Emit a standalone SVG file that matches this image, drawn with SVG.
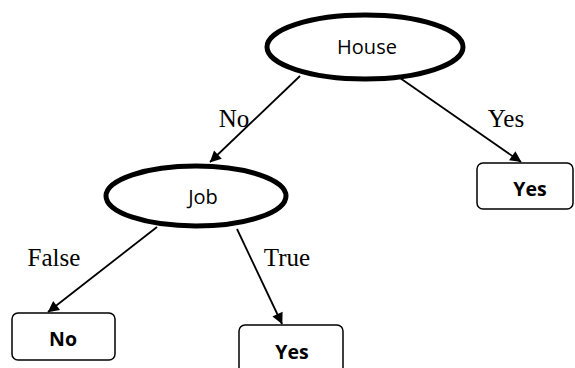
<svg xmlns="http://www.w3.org/2000/svg" width="575" height="368" viewBox="0 0 575 368">
<style>
.ell{fill:#fff;stroke:#000;stroke-width:5}
.box{fill:#fff;stroke:#000;stroke-width:1.5}
.nt{font-family:"Open Sans","Liberation Sans",sans-serif;font-size:20px;fill:#000;text-anchor:middle}
.bt{font-family:"Open Sans","Liberation Sans",sans-serif;font-size:19.5px;font-weight:bold;fill:#000;text-anchor:middle}
.el{font-family:"Liberation Serif",serif;font-size:25px;fill:#000;text-anchor:middle}
.c{stroke:#000;stroke-width:1.8;fill:none;marker-end:url(#ah)}
</style>
<defs>
<marker id="ah" viewBox="0 0 10 10" refX="9" refY="5" markerWidth="7" markerHeight="7" orient="auto" markerUnits="userSpaceOnUse" overflow="visible">
<path d="M0,0 L10,5 L0,10 z" fill="#000" transform="scale(1.6) translate(-4,-2)"/>
</marker>
</defs>
<rect width="575" height="368" fill="#fff"/>
<g id="connectors">
<line class="c" x1="300" y1="76" x2="210" y2="162"/>
<line class="c" x1="400" y1="78" x2="521" y2="162"/>
<line class="c" x1="157" y1="227" x2="48" y2="312"/>
<line class="c" x1="237" y1="229" x2="282" y2="324"/>
</g>
<g id="edge-labels">
<text class="el" x="234" y="127">No</text>
<text class="el" x="506" y="127">Yes</text>
<text class="el" x="54" y="266">False</text>
<text class="el" x="287" y="266">True</text>
</g>
<g id="house">
<ellipse class="ell" cx="365" cy="47" rx="98" ry="32"/>
<text class="nt" x="367" y="54">House</text>
</g>
<g id="job">
<ellipse class="ell" cx="196" cy="196" rx="90" ry="30"/>
<text class="nt" x="203" y="204">Job</text>
</g>
<g id="yes-right">
<rect class="box" x="477" y="163" width="96" height="46" rx="6"/>
<text class="bt" x="530" y="196">Yes</text>
</g>
<g id="no">
<rect class="box" x="12" y="313" width="103" height="47" rx="6"/>
<text class="bt" x="63" y="346">No</text>
</g>
<g id="yes-bottom">
<rect class="box" x="239" y="325" width="104" height="50" rx="6"/>
<text class="bt" x="292" y="359">Yes</text>
</g>
</svg>
